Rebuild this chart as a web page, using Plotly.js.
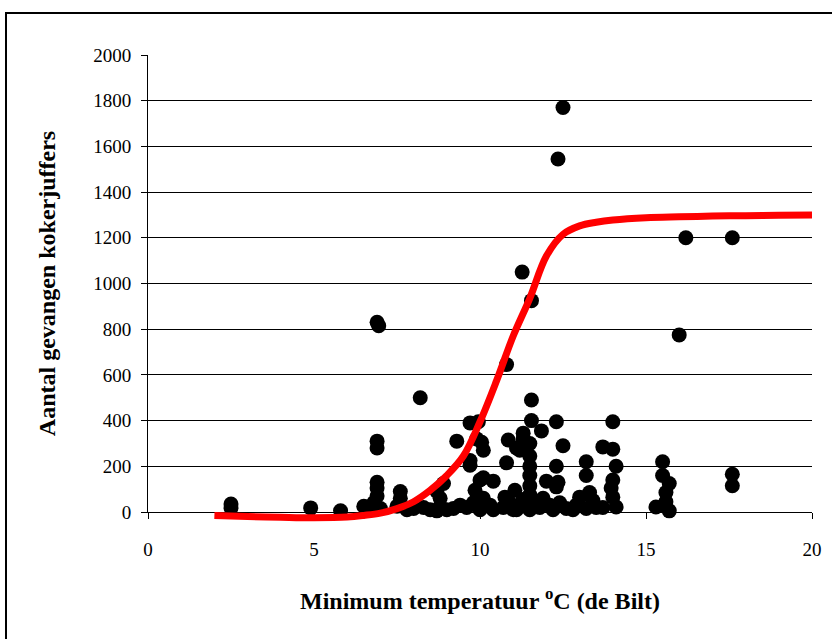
<!DOCTYPE html>
<html>
<head>
<meta charset="utf-8">
<script src="https://cdn.plot.ly/plotly-3.0.1.min.js"></script>
<style>
html,body{margin:0;padding:0;background:#fff;}
#wrap{position:relative;width:832px;height:639px;overflow:hidden;background:#fff;}
#frame{position:absolute;left:5px;top:12px;width:900px;height:700px;border:2px solid #000;box-sizing:border-box;pointer-events:none;}
#chart{position:absolute;left:0;top:0;width:832px;height:639px;}
</style>
</head>
<body>
<div id="wrap">
<div id="chart"></div>
<div id="frame"></div>
</div>
<script>
// Observed catches: minimum temperature (°C) and number caught
const tempX = [
  2.5, 2.5, 4.9, 5.8, 6.5, 6.6,
  6.9, 6.95, 6.9, 6.9, 6.9, 6.9, 6.9, 6.8, 7.0,
  7.6, 7.6, 7.5, 7.8,
  8.2, 8.0, 8.3, 8.5, 8.7,
  8.7, 8.9, 8.8, 8.8, 9.0,
  9.3, 9.2, 9.4,
  9.7, 9.95, 9.9, 10.05, 10.1, 9.7, 9.7, 10.0, 10.1, 9.85, 9.6, 9.8, 10.0, 10.1, 10.3, 10.4, 10.4,
  10.8, 10.85, 10.8, 10.75, 10.7, 10.9,
  11.05, 11.1, 11.2, 11.3, 11.3, 11.27, 11.0, 11.2, 11.3, 11.1,
  11.55, 11.55, 11.55, 11.5, 11.5, 11.5, 11.5, 11.5, 11.5, 11.5, 11.5, 11.6,
  11.85, 12.0, 11.8, 11.9, 12.1,
  12.3, 12.3, 12.3, 12.35, 12.2, 12.35, 12.5, 12.5, 12.4, 12.6,
  13.2, 13.2, 13.0, 13.3, 13.2, 13.5, 12.9, 13.4, 12.8,
  14.0, 13.7, 14.0, 14.1, 14.0, 13.95, 14.0, 13.7, 14.1,
  15.5, 15.5, 15.7, 15.6, 15.6, 15.3, 15.7, 15.6,
  16.0, 16.2, 17.6, 17.6, 17.6
];
const caught = [
  35, 18, 18, 5, 25, 10,
  830, 815, 310, 280, 130, 105, 70, 40, 15,
  90, 60, 25, 10,
  500, 15, 20, 10, 5,
  90, 125, 25, 60, 10,
  310, 15, 30,
  390, 395, 320, 305, 270, 225, 205, 140, 150, 95, 20, 40, 10, 60, 30, 135, 10,
  645, 315, 215, 65, 20, 40,
  95, 280, 270, 345, 320, 1050, 10, 30, 55, 10,
  925, 490, 400, 300, 245, 200, 160, 115, 75, 35, 10, 50,
  355, 135, 20, 60, 30,
  395, 200, 110, 130, 10, 1545, 1770, 290, 40, 15,
  220, 160, 65, 85, 15, 20, 30, 50, 10,
  395, 285, 275, 200, 140, 105, 65, 20, 22,
  220, 160, 125, 85, 45, 22, 5, 25,
  775, 1200, 1200, 165, 115
];
// Fitted curve
const fitX = [2, 3, 4, 5, 6, 6.5, 7, 7.5, 8, 8.5, 9, 9.5, 10, 10.5, 11, 11.5, 12, 12.5, 13, 13.5, 14, 15, 16, 17, 18, 19, 20];
const fitY = [-15, -20, -23, -25, -22, -15, -5, 15, 45, 95, 160, 245, 395, 575, 770, 935, 1120, 1215, 1252, 1268, 1278, 1288, 1292, 1295, 1297, 1299, 1300];

const xTicks = [0, 5, 10, 15, 20];
const yTicks = [0, 200, 400, 600, 800, 1000, 1200, 1400, 1600, 1800, 2000];

const serif = "'Liberation Serif', 'Times New Roman', serif";

// Geometry: y axis 0..2000 spans the upper part; a hidden twin axis with the same
// scale extends slightly below zero so the fitted curve is not clipped at the axis.
const H = 639, T = 55, B = 107;
const plotH = H - T - B;
const extraPx = 20;
const yDomBottom = extraPx / plotH;
const y2Min = -2000 * extraPx / (plotH - extraPx);

const traces = [
  {
    x: tempX, y: caught, type: 'scatter', mode: 'markers',
    xaxis: 'x', yaxis: 'y',
    marker: {color: '#000', size: 15, line: {width: 0}},
    cliponaxis: false, hoverinfo: 'skip'
  },
  {
    x: fitX, y: fitY, type: 'scatter', mode: 'lines',
    xaxis: 'x', yaxis: 'y2',
    line: {color: '#ff0000', width: 7, shape: 'spline', smoothing: 1},
    hoverinfo: 'skip'
  }
];

const layout = {
  width: 832, height: H,
  margin: {l: 148, r: 20, t: T, b: B},
  paper_bgcolor: 'rgba(0,0,0,0)', plot_bgcolor: 'rgba(0,0,0,0)',
  showlegend: false,
  font: {family: serif, color: '#000', size: 19},
  xaxis: {
    range: [0, 20], tickvals: xTicks, ticktext: xTicks.map(String),
    anchor: 'y',
    showgrid: false, zeroline: false,
    showline: true, linecolor: '#000', linewidth: 1,
    ticks: 'outside', ticklen: 6, tickcolor: '#000', tickwidth: 1,
    ticklabelstandoff: 14,
    tickfont: {family: serif, size: 19, color: '#000'},
    title: {text: 'Minimum temperatuur <sup>o</sup>C (de Bilt)', font: {family: serif, size: 24, color: '#000', weight: 'bold'}, standoff: 33}
  },
  yaxis: {
    domain: [yDomBottom, 1],
    range: [0, 2000], tickvals: yTicks, ticktext: yTicks.map(String),
    anchor: 'x',
    showgrid: true, gridcolor: '#000', gridwidth: 1,
    zeroline: false,
    showline: true, linecolor: '#000', linewidth: 1,
    ticks: 'outside', ticklen: 6, tickcolor: '#000', tickwidth: 1,
    ticklabelstandoff: 6,
    tickfont: {family: serif, size: 19, color: '#000'},
    title: {text: 'Aantal gevangen kokerjuffers', font: {family: serif, size: 24, color: '#000', weight: 'bold'}, standoff: 30}
  },
  yaxis2: {
    domain: [0, 1],
    range: [y2Min, 2000],
    anchor: 'free', position: 0,
    visible: false, showgrid: false, zeroline: false, fixedrange: true
  }
};

Plotly.newPlot('chart', traces, layout, {displayModeBar: false, staticPlot: true});
</script>
</body>
</html>
